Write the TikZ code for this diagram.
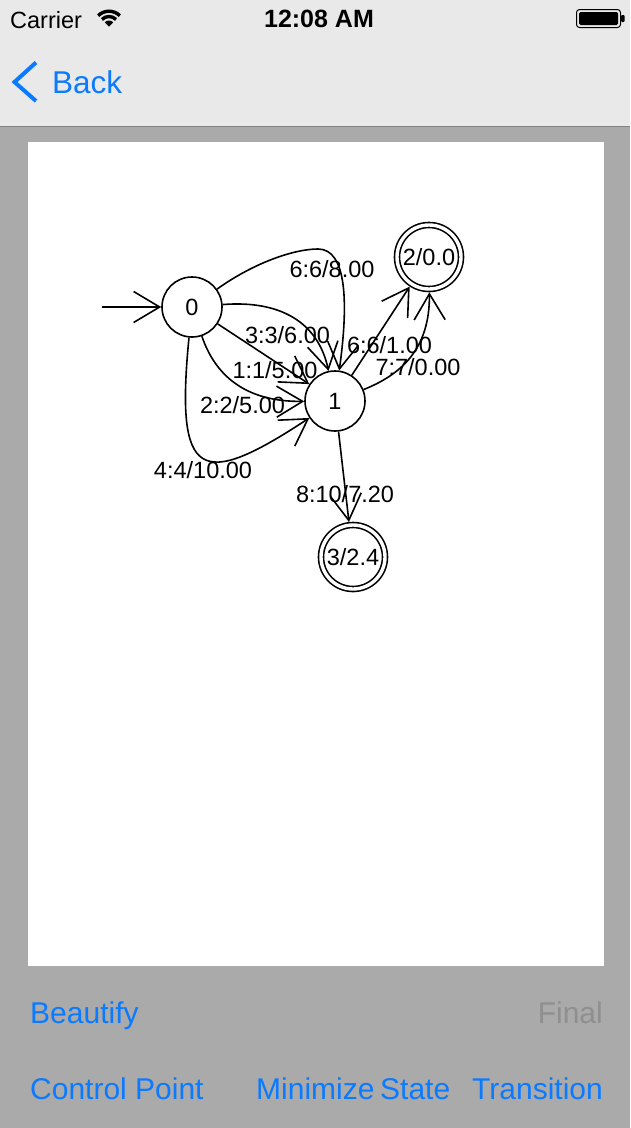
\documentclass[tikz,border=0pt]{standalone}
\usepackage{fontspec}
\setmainfont{Liberation Sans}
\usetikzlibrary{arrows.meta}
\definecolor{navbg}{HTML}{E9E9E9}
\definecolor{pagebg}{HTML}{AAAAAA}
\definecolor{sepline}{HTML}{828282}
\definecolor{iosblue}{HTML}{0A7AFF}
\definecolor{disabledgray}{HTML}{8F8F8F}
\newcommand\labfont{\fontsize{23.5}{28}\selectfont}
\newcommand\timefont{\fontsize{25}{30}\selectfont\bfseries}
\newcommand\backfont{\fontsize{31.5}{36}\selectfont}
\newcommand\btnfont{\fontsize{30}{36}\selectfont}
\tikzset{
  st/.style={circle, draw, line width=1.6pt, minimum size=60pt, inner sep=0pt,
    font=\labfont, text height=17pt, text depth=0pt},
  fin/.style={st, double, double distance=3.4pt, minimum size=64pt, outer sep=3.3pt},
  lbl/.style={inner sep=0pt, font=\labfont, text height=17pt, text depth=0pt},
  edge/.style={line width=1.6pt, -{Straight Barb[length=26pt,width=31pt]}},
  btn/.style={inner sep=0pt, font=\btnfont, text=iosblue},
}
\begin{document}
\begin{tikzpicture}[x=1pt, y=-1pt]
\useasboundingbox (0,0) rectangle (630,1128);
% backgrounds
\fill[pagebg] (0,0) rectangle (630,1128);
\fill[navbg] (0,0) rectangle (630,126);
\draw[sepline, line width=1pt] (0,126) -- (630,126);
\fill[white] (28,142) rectangle (604,966);

% status bar
\node[anchor=base west, inner sep=0pt, font=\labfont] (carrier) at (10,28) {Carrier};
\coordinate (wifi) at (109,26.5);
\fill (wifi) -- ++(45:6pt) arc[start angle=45, end angle=135, radius=6pt] -- cycle;
\draw[line width=3.4pt] (wifi) ++(45:10pt) arc[start angle=45, end angle=135, radius=10pt];
\draw[line width=3.4pt] (wifi) ++(45:15.3pt) arc[start angle=45, end angle=135, radius=15.3pt];
\node[anchor=base, inner sep=0pt, font=\timefont] (clock) at (319,27.5) {12:08 AM};
\draw[line width=1pt, rounded corners=3pt] (576.5,9.5) rectangle (620.5,27.5);
\fill[rounded corners=1.5pt] (579,12) rectangle (618,25);
\fill[rounded corners=1pt] (621,15) rectangle (624.5,22);

% navigation bar
\draw[iosblue, line width=4pt, line join=miter] (36,62.5) -- (14.5,82) -- (36,101);
\node[anchor=base west, inner sep=0pt, font=\backfont, text=iosblue] (back) at (52,93.5) {Back};

% automaton
\node[st] (n0) at (192,307) {0};
\node[st] (n1) at (335,401) {1};
\node[fin] (n2) at (429,257) {2/0.0};
\node[fin] (n3) at (353,557) {3/2.4};
\coordinate (start) at (102,307);

\draw[edge] (start) -- (n0);
\draw[edge] (n0) .. controls (255,262) and (295,249) .. (318,249)
                 .. controls (346,249) and (349,300) .. (n1);
\draw[edge] (n0) .. controls (280,300) and (318,322) .. (n1);
\draw[edge] (n0) -- (n1);
\draw[edge] (n0) .. controls (215,375) and (245,402) .. (n1);
\draw[edge] (n0) .. controls (175,480) and (200,490) .. (n1);
\draw[edge] (n1) -- (n2);
\draw[edge] (n1) .. controls (400,375) and (430,350) .. (n2);
\draw[edge] (n1) -- (n3);

\node[lbl] (l68) at (332,268.5) {6:6/8.00};
\node[lbl] (l33) at (287.5,334.5) {3:3/6.00};
\node[lbl] (l11) at (275,369.5) {1:1/5.00};
\node[lbl] (l22) at (242.5,405) {2:2/5.00};
\node[lbl] (l44) at (203,469.5) {4:4/10.00};
\node[lbl] (l61) at (389.5,344.5) {6:6/1.00};
\node[lbl] (l77) at (418,366.5) {7:7/0.00};
\node[lbl] (l810) at (345,494) {8:10/7.20};

% toolbar buttons
\node[btn, anchor=base west] (beautify) at (30,1023) {Beautify};
\node[btn, anchor=base east, text=disabledgray] (final) at (603,1023) {Final};
\node[btn, anchor=base west] (ctrl) at (30,1099) {Control Point};
\node[btn, anchor=base west] (minimize) at (256,1099) {Minimize};
\node[btn, anchor=base west] (state) at (380,1099) {State};
\node[btn, anchor=base east] (trans) at (603,1099) {Transition};
\end{tikzpicture}
\end{document}
